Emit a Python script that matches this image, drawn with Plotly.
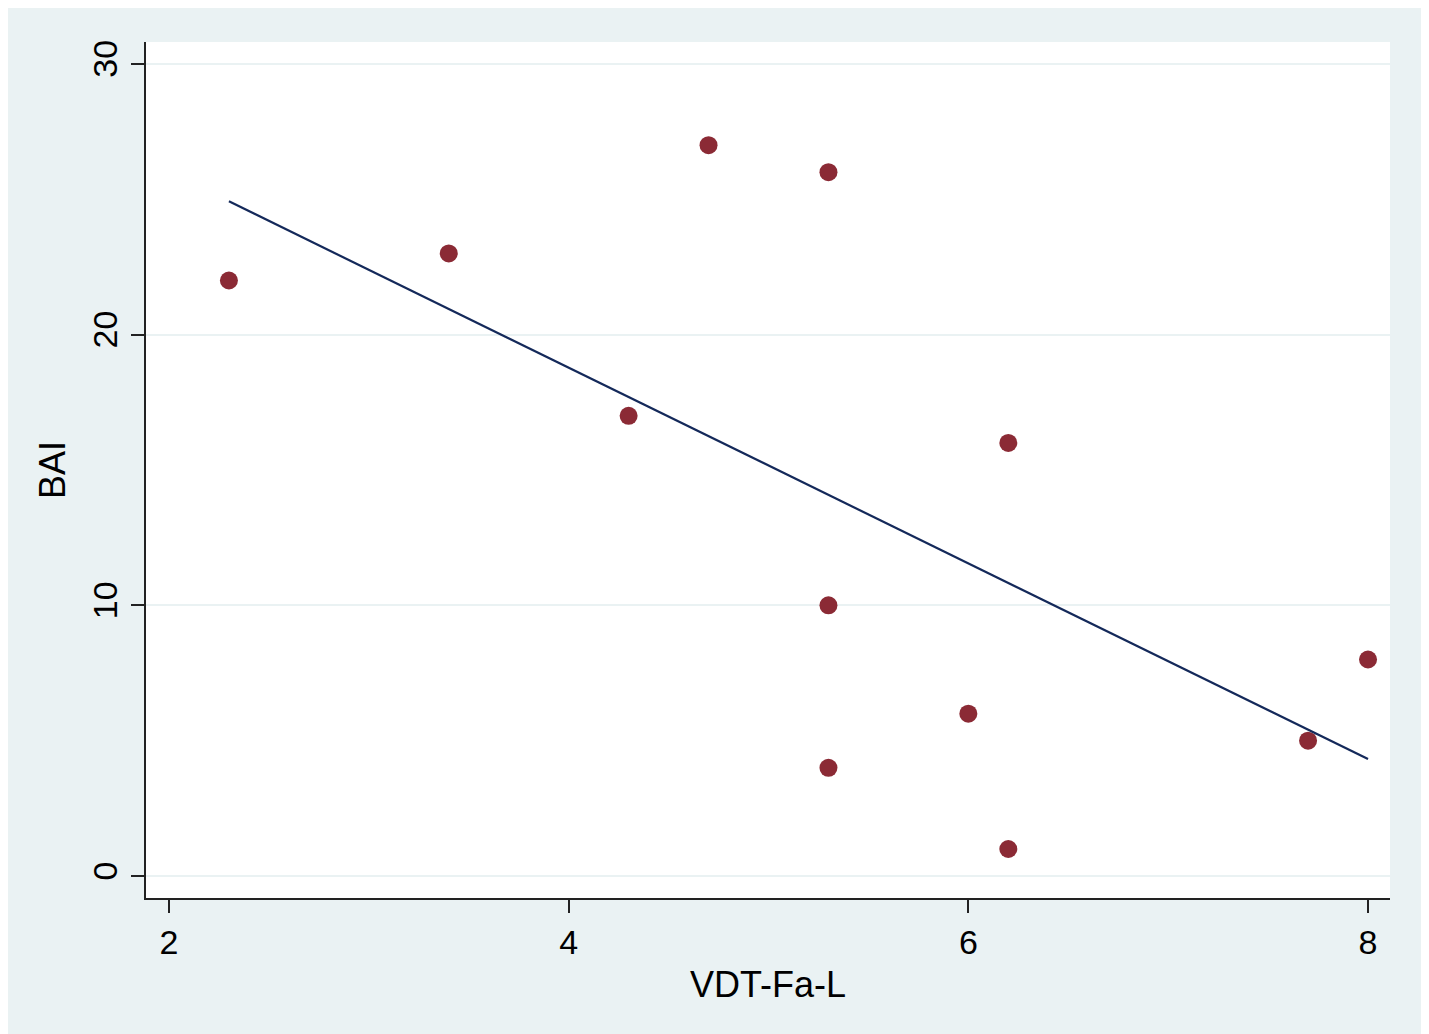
import numpy as np
import plotly.graph_objects as go

vdt_fa_l = [2.3, 3.4, 4.3, 4.7, 5.3, 5.3, 5.3, 6.2, 6.0, 6.2, 7.7, 8.0]
bai = [22, 23, 17, 27, 26, 10, 4, 16, 6, 1, 5, 8]
x_ticks = [2, 4, 6, 8]
y_ticks = [0, 10, 20, 30]

slope, intercept = np.polyfit(vdt_fa_l, bai, 1)
fx = [min(vdt_fa_l), max(vdt_fa_l)]
fy = [intercept + slope * v for v in fx]

BG = "#eaf2f3"
# the page body adds an 8px margin, which forms the white border on the top and left
W, H = 1421, 1026
L, R, T, B = 138, 39, 34, 136

fig = go.Figure()
fig.add_trace(go.Scatter(x=vdt_fa_l, y=bai, mode="markers",
                         marker=dict(size=18, color="#8b2a35"),
                         showlegend=False, hoverinfo="skip"))
fig.add_trace(go.Scatter(x=fx, y=fy, mode="lines",
                         line=dict(color="#14295a", width=2.2),
                         showlegend=False, hoverinfo="skip"))

font = "Liberation Sans, Arial, sans-serif"
fig.update_layout(
    width=W, height=H,
    margin=dict(l=L, r=R, t=T, b=B),
    paper_bgcolor=BG, plot_bgcolor="white",
    font=dict(family=font, color="black"),
    xaxis=dict(range=[1.885, 8.11], tickvals=x_ticks, showgrid=False, zeroline=False,
               showline=True, linecolor="#222", linewidth=2,
               ticks="outside", ticklen=13, tickwidth=2, tickcolor="#222",
               tickfont=dict(size=34),
               title=dict(text="VDT-Fa-L", font=dict(size=36), standoff=12)),
    yaxis=dict(range=[-0.81, 30.81], tickvals=y_ticks, showgrid=True, gridcolor=BG, gridwidth=2,
               zeroline=False, showline=True, linecolor="#222", linewidth=2,
               ticks="outside", ticklen=13, tickwidth=2, tickcolor="#222",
               tickangle=-90, tickfont=dict(size=34),
               title=dict(text="BAI", font=dict(size=36), standoff=10)),
)

fig.write_html("out.html")
